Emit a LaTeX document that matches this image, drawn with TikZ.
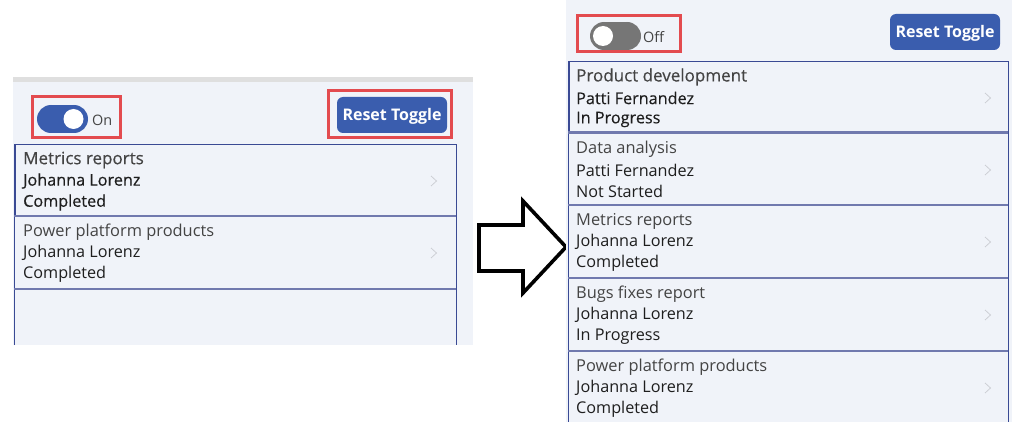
\documentclass[tikz,border=0pt]{standalone}
\usepackage{fontspec}
\setmainfont{Open Sans}
\definecolor{panel}{HTML}{F0F3F9}
\definecolor{framec}{HTML}{3A4A94}
\definecolor{sepc}{HTML}{7079AE}
\definecolor{btn}{HTML}{3A5DAE}
\definecolor{redbox}{HTML}{E34B4F}
\definecolor{titlec}{HTML}{444444}
\definecolor{bodyc}{HTML}{1E1E1E}
\definecolor{chev}{HTML}{CDCFD5}
\definecolor{offc}{HTML}{767676}
\tikzset{
  x=1pt,y=-1pt,
  itemtext/.style={anchor=west,inner sep=0pt},
  highlight/.style={draw=redbox,line width=3pt},
  itemframe/.style={draw=framec,line width=1pt},
  sepline/.style={draw=sepc,line width=2.6pt},
  chevron/.style={draw=chev,line width=.8pt},
  togglelabel/.style={anchor=west,inner sep=0pt,text=titlec,font=\fontsize{14.4}{14.4}\selectfont},
  btntext/.style={inner sep=0pt,text=white,font=\fontsize{16}{16}\selectfont\bfseries},
}
\newcommand{\listitem}[8]{% x, top y, title, who, status, series, chevron x, title size
  \node[itemtext,text=titlec,font=\fontsize{#8}{#8}\selectfont#6] at (#1,#2+15) {#3};
  \node[itemtext,text=bodyc,font=\fontsize{16.2}{16.2}\selectfont#6] at (#1,#2+36) {#4};
  \node[itemtext,text=bodyc,font=\fontsize{16.2}{16.2}\selectfont#6] at (#1,#2+57.5) {#5};
  \draw[chevron] (#7-3,#2+31) -- (#7+2.5,#2+36) -- (#7-3,#2+41);
}
\begin{document}
\begin{tikzpicture}
\useasboundingbox (0,0) rectangle (1012,422);
\fill[white] (0,0) rectangle (1012,422);
% left panel
\fill[panel] (13,77) rectangle (473,345);
\fill[gray!25] (13,77) rectangle (473,82);
\draw[itemframe] (14.5,345) -- (14.5,145) -- (456,145) -- (456,345);
\draw[framec,line width=1.8pt] (15,145) -- (15,216);
\draw[sepline] (14,216) -- (456,216);
\draw[sepline] (14,289) -- (456,289);
\listitem{23}{145}{Metrics reports}{Johanna Lorenz}{Completed}{\addfontfeatures{FakeBold=0.4}}{434}{17}
\listitem{23}{217}{Power platform products}{Johanna Lorenz}{Completed}{}{434}{16.4}
% left toggle
\fill[btn] (51,105) rectangle (74,133);
\fill[btn] (51,119) circle[radius=14];
\fill[btn] (74,119) circle[radius=14];
\fill[white] (73.5,119) circle[radius=10];
\node[togglelabel] (onlabel) at (92,120) {On};
\draw[highlight] (32,97) rectangle (120,138);
% left button
\fill[btn,rounded corners=6pt] (337,97) rectangle (447,133);
\node[btntext] (resetl) at (392,116) {Reset Toggle};
\draw[highlight] (328,91) rectangle (451,138);
% arrow
\draw[black,line width=3.6pt,line join=miter,fill=white] (479,225) -- (523,225) -- (523,201) -- (566,247) -- (523,293) -- (523,271) -- (479,271) -- cycle;
% right panel
\fill[panel] (566,0) rectangle (1012,422);
\draw[itemframe] (568.5,422) -- (568.5,62) -- (1008,62) -- (1008,422);
\draw[framec,line width=1.8pt] (569,62) -- (569,132);
\draw[sepline] (568,132.5) -- (1008,132.5);
\draw[sepline] (568,205) -- (1008,205);
\draw[sepline] (568,278) -- (1008,278);
\draw[sepline] (568,351) -- (1008,351);
\listitem{576}{62}{Product development}{Patti Fernandez}{In Progress}{\addfontfeatures{FakeBold=0.4}}{988}{17}
\listitem{576}{134}{Data analysis}{Patti Fernandez}{Not Started}{}{988}{16.4}
\listitem{576}{206}{Metrics reports}{Johanna Lorenz}{Completed}{}{988}{16.4}
\listitem{576}{279}{Bugs fixes report}{Johanna Lorenz}{In Progress}{}{988}{16.4}
\listitem{576}{352}{Power platform products}{Johanna Lorenz}{Completed}{}{988}{16.4}
% right toggle
\fill[offc] (604,22) rectangle (627,50);
\fill[offc] (604,36) circle[radius=14];
\fill[offc] (627,36) circle[radius=14];
\fill[white] (603,36) circle[radius=10];
\node[togglelabel] (offlabel) at (643,37) {Off};
\draw[highlight] (577,16) rectangle (680,52);
% right button
\fill[btn,rounded corners=6pt] (890,14) rectangle (1000,50);
\node[btntext] (resetr) at (945,33) {Reset Toggle};
\end{tikzpicture}
\end{document}
